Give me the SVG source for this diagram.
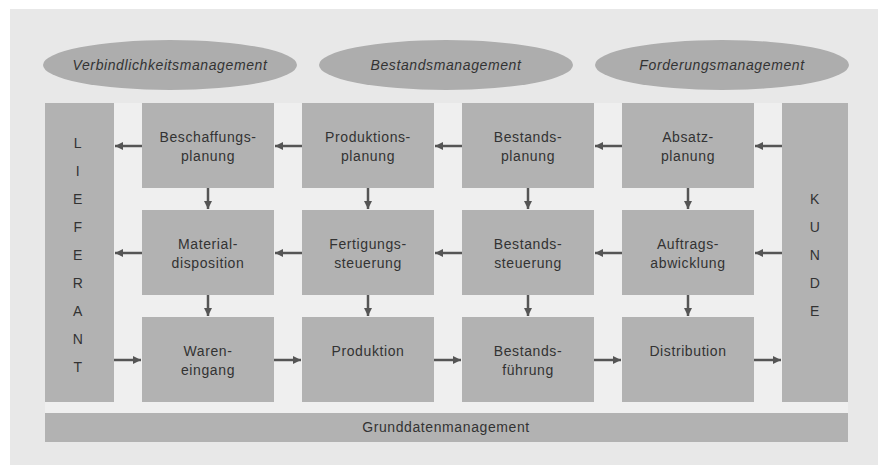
<svg xmlns="http://www.w3.org/2000/svg" width="878" height="465" viewBox="0 0 878 465">
<style>
.box{fill:#b2b2b2}
.ell{fill:#adadad}
.t{font-family:"Liberation Sans",Arial,sans-serif;font-size:14px;fill:#333;text-anchor:middle;letter-spacing:0.6px}
.i{font-style:italic}
.c{stroke:#555;stroke-width:2.5;fill:none}
.h{marker-end:url(#ah)}
</style>
<defs>
<marker id="ah" markerUnits="userSpaceOnUse" markerWidth="10" markerHeight="10" refX="8" refY="4" orient="auto">
<path d="M0,0 L8,4 L0,8 Z" fill="#555"/>
</marker>
</defs>
<rect x="0" y="0" width="878" height="465" fill="#ffffff"/>
<rect x="10" y="9" width="868" height="456" fill="#e8e8e8"/>
<rect x="45" y="103" width="803" height="339" fill="#efefef"/>

<g id="verbindlichkeitsmanagement"><ellipse class="ell" cx="170" cy="65" rx="127" ry="25"/><text class="t i" x="170" y="70">Verbindlichkeitsmanagement</text></g>
<g id="bestandsmanagement"><ellipse class="ell" cx="446" cy="65" rx="127" ry="25"/><text class="t i" x="446" y="70">Bestandsmanagement</text></g>
<g id="forderungsmanagement"><ellipse class="ell" cx="722" cy="65" rx="127" ry="25"/><text class="t i" x="722" y="70">Forderungsmanagement</text></g>

<g id="lieferant"><rect class="box" x="45" y="103" width="69" height="299"/>
<text class="t" x="78"><tspan x="78" y="148">L</tspan><tspan x="78" y="176">I</tspan><tspan x="78" y="204">E</tspan><tspan x="78" y="232">F</tspan><tspan x="78" y="260">E</tspan><tspan x="78" y="288">R</tspan><tspan x="78" y="316">A</tspan><tspan x="78" y="344">N</tspan><tspan x="78" y="372">T</tspan></text></g>
<g id="kunde"><rect class="box" x="782" y="103" width="66" height="299"/>
<text class="t" x="815"><tspan x="815" y="204">K</tspan><tspan x="815" y="232">U</tspan><tspan x="815" y="260">N</tspan><tspan x="815" y="288">D</tspan><tspan x="815" y="316">E</tspan></text></g>

<g id="beschaffungsplanung"><rect class="box" x="142" y="103" width="132" height="85"/><text class="t" x="208"><tspan x="208" y="142">Beschaffungs-</tspan><tspan x="208" y="161">planung</tspan></text></g>
<g id="produktionsplanung"><rect class="box" x="302" y="103" width="132" height="85"/><text class="t" x="368"><tspan x="368" y="142">Produktions-</tspan><tspan x="368" y="161">planung</tspan></text></g>
<g id="bestandsplanung"><rect class="box" x="462" y="103" width="132" height="85"/><text class="t" x="528"><tspan x="528" y="142">Bestands-</tspan><tspan x="528" y="161">planung</tspan></text></g>
<g id="absatzplanung"><rect class="box" x="622" y="103" width="132" height="85"/><text class="t" x="688"><tspan x="688" y="142">Absatz-</tspan><tspan x="688" y="161">planung</tspan></text></g>

<g id="materialdisposition"><rect class="box" x="142" y="210" width="132" height="85"/><text class="t" x="208"><tspan x="208" y="249">Material-</tspan><tspan x="208" y="268">disposition</tspan></text></g>
<g id="fertigungssteuerung"><rect class="box" x="302" y="210" width="132" height="85"/><text class="t" x="368"><tspan x="368" y="249">Fertigungs-</tspan><tspan x="368" y="268">steuerung</tspan></text></g>
<g id="bestandssteuerung"><rect class="box" x="462" y="210" width="132" height="85"/><text class="t" x="528"><tspan x="528" y="249">Bestands-</tspan><tspan x="528" y="268">steuerung</tspan></text></g>
<g id="auftragsabwicklung"><rect class="box" x="622" y="210" width="132" height="85"/><text class="t" x="688"><tspan x="688" y="249">Auftrags-</tspan><tspan x="688" y="268">abwicklung</tspan></text></g>

<g id="wareneingang"><rect class="box" x="142" y="317" width="132" height="85"/><text class="t" x="208"><tspan x="208" y="356">Waren-</tspan><tspan x="208" y="375">eingang</tspan></text></g>
<g id="produktion"><rect class="box" x="302" y="317" width="132" height="85"/><text class="t" x="368" y="356">Produktion</text></g>
<g id="bestandsfuehrung"><rect class="box" x="462" y="317" width="132" height="85"/><text class="t" x="528"><tspan x="528" y="356">Bestands-</tspan><tspan x="528" y="375">führung</tspan></text></g>
<g id="distribution"><rect class="box" x="622" y="317" width="132" height="85"/><text class="t" x="688" y="356">Distribution</text></g>

<g id="grunddatenmanagement"><rect class="box" x="45" y="413" width="803" height="29"/><text class="t" x="446" y="432">Grunddatenmanagement</text></g>

<g id="connectors">
<line class="c h" x1="142" y1="146" x2="115" y2="146"/>
<line class="c h" x1="302" y1="146" x2="275" y2="146"/>
<line class="c h" x1="462" y1="146" x2="435" y2="146"/>
<line class="c h" x1="622" y1="146" x2="595" y2="146"/>
<line class="c h" x1="782" y1="146" x2="755" y2="146"/>
<line class="c h" x1="142" y1="253" x2="115" y2="253"/>
<line class="c h" x1="302" y1="253" x2="275" y2="253"/>
<line class="c h" x1="462" y1="253" x2="435" y2="253"/>
<line class="c h" x1="622" y1="253" x2="595" y2="253"/>
<line class="c h" x1="782" y1="253" x2="755" y2="253"/>
<line class="c h" x1="114" y1="360" x2="141" y2="360"/>
<line class="c h" x1="274" y1="360" x2="301" y2="360"/>
<line class="c h" x1="434" y1="360" x2="461" y2="360"/>
<line class="c h" x1="594" y1="360" x2="621" y2="360"/>
<line class="c h" x1="754" y1="360" x2="781" y2="360"/>
<line class="c h" x1="208" y1="188" x2="208" y2="209"/>
<line class="c h" x1="368" y1="188" x2="368" y2="209"/>
<line class="c h" x1="528" y1="188" x2="528" y2="209"/>
<line class="c h" x1="688" y1="188" x2="688" y2="209"/>
<line class="c h" x1="208" y1="295" x2="208" y2="316"/>
<line class="c h" x1="368" y1="295" x2="368" y2="316"/>
<line class="c h" x1="528" y1="295" x2="528" y2="316"/>
<line class="c h" x1="688" y1="295" x2="688" y2="316"/>
</g>
</svg>
